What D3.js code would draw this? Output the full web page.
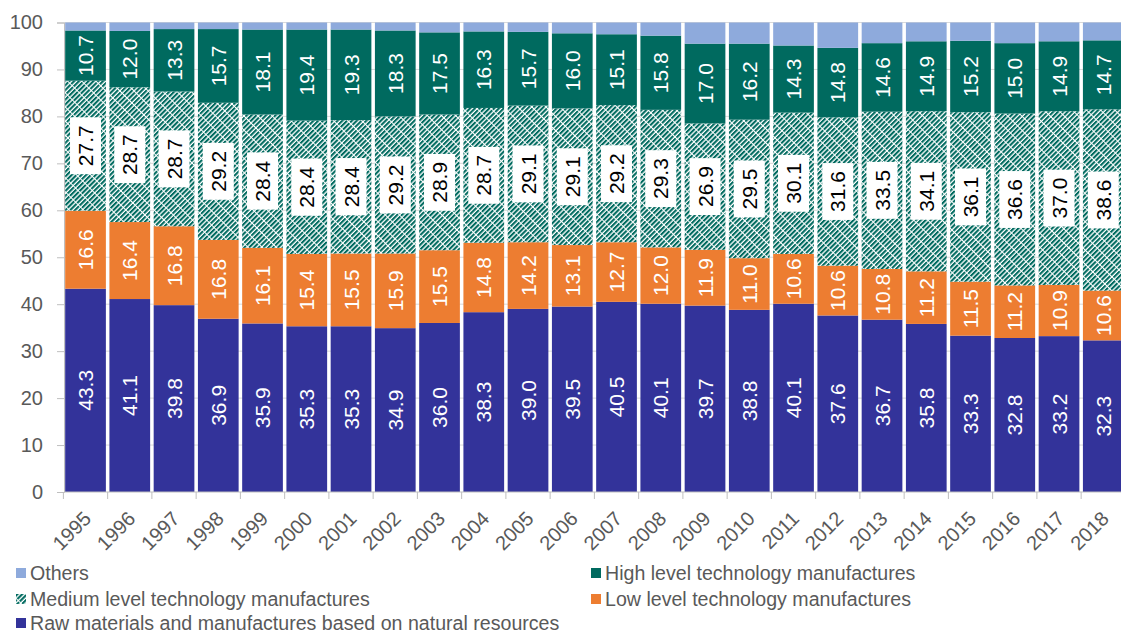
<!DOCTYPE html>
<html>
<head>
<meta charset="utf-8">
<script src="https://cdn.jsdelivr.net/npm/d3@7"></script>
<style>
  html, body { margin: 0; padding: 0; background: #fff; }
  svg { display: block; font-family: "Liberation Sans", Arial, sans-serif; }
</style>
</head>
<body>
<svg id="chart" width="1121" height="633"></svg>
<script>
// Export structure by technology level, share of total (%)
const years = ["1995","1996","1997","1998","1999","2000","2001","2002","2003","2004","2005","2006",
               "2007","2008","2009","2010","2011","2012","2013","2014","2015","2016","2017","2018"];
const rawMaterials = [43.3,41.1,39.8,36.9,35.9,35.3,35.3,34.9,36.0,38.3,39.0,39.5,
                      40.5,40.1,39.7,38.8,40.1,37.6,36.7,35.8,33.3,32.8,33.2,32.3];
const lowTech = [16.6,16.4,16.8,16.8,16.1,15.4,15.5,15.9,15.5,14.8,14.2,13.1,
                 12.7,12.0,11.9,11.0,10.6,10.6,10.8,11.2,11.5,11.2,10.9,10.6];
const mediumTech = [27.7,28.7,28.7,29.2,28.4,28.4,28.4,29.2,28.9,28.7,29.1,29.1,
                    29.2,29.3,26.9,29.5,30.1,31.6,33.5,34.1,36.1,36.6,37.0,38.6];
const highTech = [10.7,12.0,13.3,15.7,18.1,19.4,19.3,18.3,17.5,16.3,15.7,16.0,
                  15.1,15.8,17.0,16.2,14.3,14.8,14.6,14.9,15.2,15.0,14.9,14.7];
const others = [1.7,1.8,1.4,1.4,1.5,1.5,1.5,1.7,2.1,1.9,2.0,2.3,
                2.5,2.8,4.5,4.5,4.9,5.4,4.4,4.0,3.9,4.4,4.0,3.8];
const yTicks = [0,10,20,30,40,50,60,70,80,90,100];

const seriesKeys = ["raw","low","medium","high","others"];
const seriesNames = {
  others: "Others",
  high: "High level technology manufactures",
  medium: "Medium level technology manufactures",
  low: "Low level technology manufactures",
  raw: "Raw materials and manufactures based on natural resources"
};
const colors = {
  raw: "#33339a",
  low: "#ed7d31",
  medium: "url(#mediumPattern)",
  high: "#006a5f",
  others: "#8eaadc"
};
const labelStyle = { raw: "white", low: "white", medium: "boxed", high: "white", others: null };

const table = years.map((y, i) => ({
  year: y, raw: rawMaterials[i], low: lowTech[i], medium: mediumTech[i],
  high: highTech[i], others: others[i]
}));

const svg = d3.select("#chart");
const textColor = "#595959";

// dashed diagonal stripes for the medium-technology series
const defs = svg.append("defs");
const pat = defs.append("pattern")
  .attr("id", "mediumPattern")
  .attr("patternUnits", "userSpaceOnUse")
  .attr("width", 3.4).attr("height", 10)
  .attr("patternTransform", "rotate(45)");
pat.append("rect").attr("width", 3.4).attr("height", 10).attr("fill", "#fff");
pat.append("rect").attr("x", 0).attr("y", 0).attr("width", 2.1).attr("height", 9).attr("fill", "#006a5f");

const x = d3.scaleBand().domain(years).range([63.4, 1125.4]).paddingInner(0.08).paddingOuter(0.04);
const y = d3.scaleLinear().domain([0, 100]).range([492, 22.5]);

// gridlines
svg.append("g").selectAll("line").data(yTicks.filter(t => t > 0)).join("line")
  .attr("x1", 64).attr("x2", 1121)
  .attr("y1", d => y(d)).attr("y2", d => y(d))
  .attr("stroke", "#d9d9d9").attr("stroke-width", 1);

// stacked bars
const stack = d3.stack().keys(seriesKeys);
const stacked = stack(table);

const layers = svg.append("g").selectAll("g").data(stacked).join("g")
  .attr("fill", d => colors[d.key]);
layers.selectAll("rect").data(d => d).join("rect")
  .attr("x", d => x(d.data.year))
  .attr("width", x.bandwidth())
  .attr("y", d => y(d[1]))
  .attr("height", d => y(d[0]) - y(d[1]));

// y axis
const yAxis = svg.append("g").attr("transform", "translate(64,0)")
  .call(d3.axisLeft(y).tickValues(yTicks).tickSize(7).tickPadding(14));
yAxis.select(".domain").attr("stroke", "#bfbfbf");
yAxis.selectAll(".tick line").attr("stroke", "#bfbfbf");
yAxis.selectAll(".tick text").attr("fill", textColor).style("font-size", "20px")
  .attr("font-family", "Liberation Sans, Arial, sans-serif");

// x axis: baseline and ticks at category boundaries
const step = x.step();
const boundaries = years.map(yr => x(yr) + x.bandwidth() / 2 - step / 2);
const xg = svg.append("g");
xg.append("line").attr("x1", 64).attr("x2", 1121).attr("y1", 492).attr("y2", 492)
  .attr("stroke", "#bfbfbf");
xg.selectAll("line.tk").data(boundaries).join("line").attr("class", "tk")
  .attr("x1", d => d).attr("x2", d => d).attr("y1", 492).attr("y2", 499)
  .attr("stroke", "#bfbfbf");
xg.selectAll("text").data(years).join("text")
  .attr("transform", d => `translate(${x(d) + x.bandwidth() / 2 + 2},${515}) rotate(-45)`)
  .attr("text-anchor", "end")
  .attr("dominant-baseline", "central")
  .attr("fill", textColor)
  .style("font-size", "20px")
  .text(d => d);

// value labels
const labelG = svg.append("g");
stacked.forEach(layer => {
  const style = labelStyle[layer.key];
  if (!style) return;
  layer.forEach(d => {
    const val = d.data[layer.key];
    const cx = x(d.data.year) + x.bandwidth() / 2;
    const cy = (y(d[0]) + y(d[1])) / 2;
    const g = labelG.append("g").attr("transform", `translate(${cx},${cy}) rotate(-90)`);
    const t = g.append("text")
      .attr("text-anchor", "middle")
      .attr("dominant-baseline", "central")
      .style("font-size", "21px")
      .attr("fill", style === "boxed" ? "#000" : "#fff")
      .text(val.toFixed(1));
    if (style === "boxed") {
      const bb = t.node().getBBox();
      g.insert("rect", "text")
        .attr("x", bb.x - 8).attr("y", -15.5)
        .attr("width", bb.width + 16).attr("height", 31)
        .attr("fill", "#fff");
    }
  });
});

// legend
const legendItems = [
  { key: "others", x: 16, y: 573 },
  { key: "high", x: 591, y: 573 },
  { key: "medium", x: 16, y: 599 },
  { key: "low", x: 591, y: 599 },
  { key: "raw", x: 16, y: 623 }
];
const lg = svg.append("g").selectAll("g").data(legendItems).join("g")
  .attr("transform", d => `translate(${d.x},${d.y})`);
lg.append("rect").attr("x", 0).attr("y", -5).attr("width", 10).attr("height", 10)
  .attr("fill", d => colors[d.key]);
lg.append("text").attr("x", 14).attr("dominant-baseline", "central")
  .attr("fill", textColor).style("font-size", "19.6px")
  .text(d => seriesNames[d.key]);
</script>
</body>
</html>
